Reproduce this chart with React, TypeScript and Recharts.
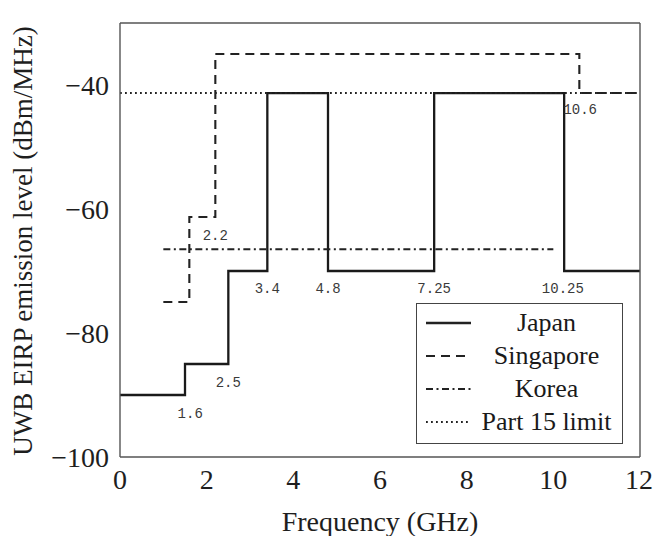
import { Label, Legend, Line, LineChart, ReferenceDot, XAxis, YAxis } from 'recharts';

// step masks, breakpoints in GHz / dBm per MHz (stepAfter)
const japanFreq = [0, 1.5, 2.5, 3.4, 4.8, 7.25, 10.25, 12];
const japanLevel = [-90, -85, -70, -41.3, -70, -41.3, -70, -70];
const singaporeFreq = [1, 1.6, 2.2, 10.6, 12];
const singaporeLevel = [-75, -61.3, -35, -41.3, -41.3];
const koreaFreq = [1, 10];
const koreaLevel = [-66.5, -66.5];
const part15Freq = [0, 12];
const part15Level = [-41.3, -41.3];

const seriesNames = ['Japan', 'Singapore', 'Korea', 'Part 15 limit'];

const xTicks = [0, 2, 4, 6, 8, 10, 12];
const yTicks = [-100, -80, -60, -40];

const noteText = ['1.6', '2.5', '2.2', '3.4', '4.8', '7.25', '10.25', '10.6'];
const noteFreq = [1.62, 2.5, 2.2, 3.4, 4.8, 7.25, 10.22, 10.62];
const noteLevel = [-92.9, -87.9, -64.2, -72.7, -72.7, -72.7, -72.7, -43.9];

const toPoints = (xs: number[], ys: number[]) => xs.map((x, i) => ({ x, y: ys[i] }));

const serif = '"Liberation Serif", "Times New Roman", serif';
const mono = '"Liberation Mono", "DejaVu Sans Mono", monospace';
const frame = '#555';
const tickGray = '#b5b5b5';

const lineStyles = [
  { dash: undefined, width: 2.3 },
  { dash: '9 6', width: 2.1 },
  { dash: '7 3.5 2 3.5', width: 2.1 },
  { dash: '1.8 3.2', width: 2.1 },
];

const series = [
  toPoints(japanFreq, japanLevel),
  toPoints(singaporeFreq, singaporeLevel),
  toPoints(koreaFreq, koreaLevel),
  toPoints(part15Freq, part15Level),
];

const fmtY = (v: number) => (v < 0 ? `\u2212${Math.abs(v)}` : `${v}`);

function LegendBox() {
  return (
    <div
      style={{
        boxSizing: 'border-box',
        width: 207,
        height: 141,
        border: `1.5px solid #444`,
        background: '#fff',
        paddingTop: 2,
        fontFamily: serif,
        fontSize: 26,
        color: '#1a1a1a',
      }}
    >
      {seriesNames.map((name, i) => (
        <div key={name} style={{ height: 33, display: 'flex', alignItems: 'center' }}>
          <svg width={54} height={33} style={{ flex: 'none' }}>
            <line
              x1={9}
              x2={54}
              y1={17}
              y2={17}
              stroke="#222"
              strokeWidth={lineStyles[i].width}
              strokeDasharray={lineStyles[i].dash}
            />
          </svg>
          <div style={{ flex: 1, textAlign: 'center', lineHeight: '33px', whiteSpace: 'nowrap' }}>{name}</div>
        </div>
      ))}
    </div>
  );
}

export default function App() {
  return (
    <div style={{ position: 'absolute', left: 0, top: 0, width: 653, height: 536, background: '#fff' }}>
      <LineChart width={653} height={536} margin={{ top: 23, right: 13, bottom: 0, left: 0 }}>
        <XAxis
          type="number"
          dataKey="x"
          domain={[0, 12]}
          allowDataOverflow
          ticks={xTicks}
          height={79}
          tickLine={false}
          tickSize={0}
          tickMargin={12}
          axisLine={{ stroke: frame, strokeWidth: 1.4 }}
          tick={{ fill: '#1e1e1e', fontSize: 28, fontFamily: serif }}
        >
          <Label
            content={() => (
              <text x={380} y={521} textAnchor="middle" dominantBaseline="central" fill="#1e1e1e" fontSize={28} fontFamily={serif}>
                Frequency (GHz)
              </text>
            )}
          />
        </XAxis>
        <XAxis
          xAxisId="bin"
          type="number"
          dataKey="x"
          domain={[0, 12]}
          allowDataOverflow
          ticks={xTicks}
          mirror
          tick={false}
          tickSize={8}
          axisLine={false}
          tickLine={{ stroke: tickGray }}
        />
        <XAxis
          xAxisId="top"
          orientation="top"
          type="number"
          dataKey="x"
          domain={[0, 12]}
          allowDataOverflow
          ticks={xTicks}
          mirror
          tick={false}
          tickSize={8}
          axisLine={{ stroke: frame, strokeWidth: 1.4 }}
          tickLine={{ stroke: tickGray }}
        />
        <YAxis
          type="number"
          domain={[-100, -30]}
          allowDataOverflow
          ticks={yTicks}
          width={120}
          tickLine={false}
          tickSize={0}
          tickMargin={11}
          tickFormatter={fmtY}
          axisLine={{ stroke: frame, strokeWidth: 1.4 }}
          tick={{ fill: '#1e1e1e', fontSize: 28, fontFamily: serif }}
        >
          <Label
            content={() => (
              <text
                x={23}
                y={241}
                transform="rotate(-90 23 241)"
                textAnchor="middle"
                dominantBaseline="central"
                fill="#1e1e1e"
                fontSize={27}
                fontFamily={serif}
              >
                UWB EIRP emission level (dBm/MHz)
              </text>
            )}
          />
        </YAxis>
        <YAxis
          yAxisId="lin"
          type="number"
          domain={[-100, -30]}
          allowDataOverflow
          ticks={yTicks}
          mirror
          tick={false}
          tickSize={8}
          axisLine={false}
          tickLine={{ stroke: tickGray }}
        />
        <YAxis
          yAxisId="right"
          orientation="right"
          type="number"
          domain={[-100, -30]}
          allowDataOverflow
          ticks={yTicks}
          mirror
          tick={false}
          tickSize={8}
          axisLine={{ stroke: frame, strokeWidth: 1.4 }}
          tickLine={{ stroke: tickGray }}
        />

        {series.map((pts, i) => (
          <Line
            key={seriesNames[i]}
            data={pts}
            dataKey="y"
            name={seriesNames[i]}
            type="stepAfter"
            stroke={i === 0 ? '#1a1a1a' : '#222'}
            strokeWidth={lineStyles[i].width}
            strokeDasharray={lineStyles[i].dash}
            dot={false}
            activeDot={false}
            isAnimationActive={false}
          />
        ))}

        {noteText.map((t, i) => (
          <ReferenceDot
            key={t}
            x={noteFreq[i]}
            y={noteLevel[i]}
            r={0}
            stroke="none"
            fill="none"
            label={{ value: t, position: 'center', fill: '#3a3a3a', fontSize: 14, fontFamily: mono }}
          />
        ))}

        <Legend
          layout="vertical"
          align="center"
          verticalAlign="middle"
          content={() => <LegendBox />}
          wrapperStyle={{ left: 416, top: 303, width: 207, height: 141 }}
        />
      </LineChart>
    </div>
  );
}
